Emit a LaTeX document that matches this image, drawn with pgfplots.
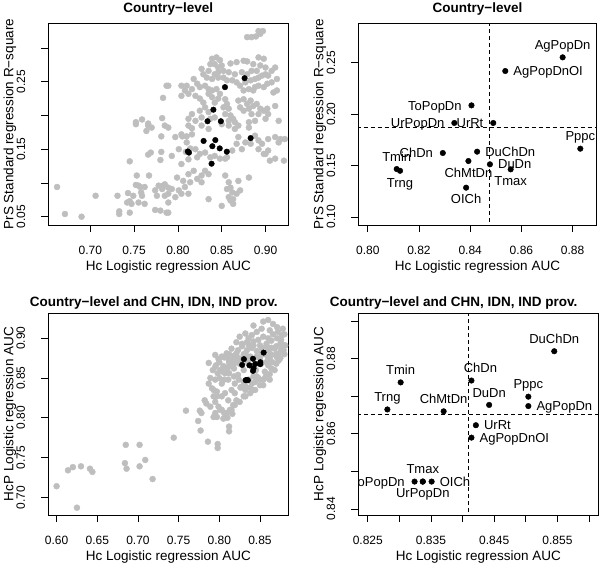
\documentclass[border=0pt]{standalone}
\usepackage{fontspec}
\setmainfont{Liberation Sans}
\usepackage{pgfplots}
\pgfplotsset{compat=1.18}
\definecolor{rgray}{HTML}{BEBEBE}

\pgfplotsset{
  rpanel/.style={
    scale only axis, height=201.7pt,
    clip=true,
    tick align=outside, tick pos=left, major tick length=7pt,
    axis line style={line width=0.8pt},
    every tick/.style={black, line width=0.8pt},
    tick label style={font=\fontsize{12}{14}\selectfont},
    xticklabel style={anchor=base, yshift=-22.3pt},
    yticklabel style={anchor=base, xshift=-16.3pt, rotate=90},
    every axis x label/.style={at={(axis description cs:0.5,0)}, yshift=-45.7pt, anchor=base,
      font=\fontsize{13.5}{16}\selectfont},
    every axis y label/.style={at={(axis description cs:0,0.5)}, xshift=-35pt, rotate=90, anchor=base,
      font=\fontsize{13.5}{16}\selectfont},
    every axis title/.style={at={(axis description cs:0.5,1)}, anchor=base, yshift=10.6pt,
      font=\bfseries\fontsize{13.5}{16}\selectfont},
  },
  graydot/.style={only marks, mark=*, mark size=3pt, mark options={fill=rgray, draw=rgray}},
  blackdot/.style={only marks, mark=*, mark size=2.8pt, mark options={fill=black, draw=black}},
  lab/.style={blackdot, point meta=explicit symbolic, nodes near coords,
    nodes near coords style={font=\fontsize{13}{15}\selectfont, inner sep=0pt, text=black}},
  labA/.style={lab, nodes near coords style={anchor=base, yshift=7.7pt}},
  labB/.style={lab, nodes near coords style={anchor=base, yshift=-16.3pt}},
  labL/.style={lab, nodes near coords style={anchor=base east, xshift=-9.7pt, yshift=-4.65pt}},
  labR/.style={lab, nodes near coords style={anchor=base west, xshift=8pt, yshift=-4.65pt}},
  refline/.style={black, line width=0.9pt, dash pattern=on 4pt off 3pt},
}

\begin{document}
\begin{tikzpicture}
\useasboundingbox (0,0) rectangle (600pt,563pt);

% ---------- top left: country level, all variables ----------
\begin{axis}[rpanel, at={(48.3pt,338pt)}, anchor=south west, width=240pt,
  xmin=0.652, xmax=0.926, ymin=0.0377, ymax=0.3365,
  xtick={0.70,0.75,0.80,0.85,0.90}, xticklabels={0.70,0.75,0.80,0.85,0.90},
  ytick={0.05,0.10,0.15,0.20,0.25,0.30}, yticklabels={0.05,,0.15,,0.25,},
  title={Country−level},
  xlabel={Hc Logistic regression AUC},
  ylabel={PrS Standard regression R−square}]
\addplot[graydot] coordinates {
(0.787,0.244) (0.783,0.226) (0.782,0.196) (0.759,0.194) (0.752,0.190) (0.766,0.188)
(0.752,0.187) (0.766,0.185) (0.770,0.182) (0.764,0.177) (0.781,0.169) (0.785,0.185)
(0.766,0.142) (0.769,0.145) (0.781,0.146) (0.780,0.134) (0.745,0.132) (0.753,0.111)
(0.767,0.111) (0.662,0.094) (0.706,0.081) (0.731,0.081) (0.743,0.085) (0.749,0.081)
(0.755,0.096) (0.752,0.097) (0.757,0.094) (0.762,0.094) (0.758,0.086) (0.759,0.081)
(0.745,0.073) (0.742,0.071) (0.747,0.069) (0.755,0.071) (0.762,0.069) (0.778,0.096)
(0.783,0.096) (0.785,0.098) (0.782,0.091) (0.774,0.089) (0.776,0.081) (0.785,0.081)
(0.789,0.084) (0.671,0.054) (0.690,0.050) (0.733,0.058) (0.733,0.054) (0.745,0.056)
(0.774,0.060) (0.780,0.059) (0.787,0.056)
(0.879,0.316) (0.884,0.316) (0.889,0.317) (0.892,0.325) (0.897,0.325) (0.894,0.321)
(0.839,0.284) (0.844,0.286) (0.848,0.282) (0.837,0.276) (0.842,0.276) (0.846,0.271)
(0.850,0.274) (0.860,0.277) (0.867,0.279) (0.875,0.281) (0.879,0.280) (0.886,0.276)
(0.892,0.286) (0.898,0.284) (0.894,0.274) (0.900,0.271) (0.890,0.266) (0.884,0.266)
(0.879,0.261) (0.873,0.264) (0.865,0.261) (0.858,0.264) (0.852,0.266) (0.846,0.264)
(0.842,0.261) (0.835,0.266) (0.827,0.269) (0.829,0.261) (0.833,0.256) (0.839,0.254)
(0.846,0.256) (0.852,0.256) (0.856,0.252) (0.862,0.252) (0.867,0.249) (0.871,0.244)
(0.877,0.249) (0.883,0.252) (0.888,0.254) (0.892,0.256) (0.896,0.259) (0.900,0.261)
(0.903,0.259) (0.907,0.266) (0.911,0.271) (0.913,0.254) (0.907,0.249) (0.902,0.247)
(0.898,0.242) (0.892,0.244) (0.888,0.242) (0.886,0.237) (0.881,0.239) (0.875,0.237)
(0.818,0.254) (0.822,0.247) (0.825,0.242) (0.831,0.244) (0.835,0.239) (0.839,0.237)
(0.844,0.239) (0.848,0.232) (0.846,0.225) (0.842,0.219) (0.839,0.227) (0.835,0.232)
(0.789,0.244) (0.804,0.244) (0.810,0.244) (0.816,0.239) (0.808,0.237) (0.804,0.229)
(0.812,0.232) (0.820,0.229) (0.825,0.225) (0.829,0.219) (0.831,0.212) (0.835,0.205)
(0.825,0.207) (0.816,0.202) (0.812,0.195) (0.820,0.192) (0.827,0.197) (0.837,0.195)
(0.842,0.197) (0.852,0.212) (0.856,0.217) (0.858,0.210) (0.854,0.202) (0.860,0.200)
(0.863,0.195) (0.869,0.222) (0.875,0.224) (0.879,0.217) (0.883,0.222) (0.886,0.214)
(0.881,0.210) (0.875,0.207) (0.871,0.212) (0.890,0.217) (0.894,0.210) (0.898,0.207)
(0.902,0.210) (0.892,0.202) (0.884,0.202) (0.900,0.195) (0.903,0.202) (0.911,0.214)
(0.913,0.237) (0.909,0.234) (0.915,0.192) (0.858,0.192) (0.865,0.190) (0.881,0.190)
(0.888,0.192) (0.854,0.224)
(0.789,0.182) (0.797,0.168) (0.804,0.172) (0.810,0.160) (0.801,0.150) (0.793,0.140)
(0.816,0.172) (0.812,0.185) (0.827,0.185) (0.835,0.180) (0.850,0.187) (0.858,0.185)
(0.865,0.180) (0.869,0.185) (0.881,0.182) (0.869,0.168) (0.877,0.160) (0.883,0.158)
(0.873,0.150) (0.867,0.158) (0.862,0.148) (0.856,0.138) (0.854,0.136) (0.848,0.136)
(0.842,0.140) (0.837,0.138) (0.831,0.145) (0.825,0.143) (0.820,0.150) (0.822,0.138)
(0.812,0.135) (0.804,0.128) (0.892,0.150) (0.898,0.143) (0.903,0.148) (0.896,0.158)
(0.892,0.163) (0.903,0.165) (0.911,0.168) (0.915,0.160) (0.917,0.165) (0.921,0.133)
(0.911,0.136) (0.905,0.133) (0.900,0.143) (0.888,0.170) (0.799,0.108) (0.806,0.103)
(0.814,0.101) (0.822,0.106) (0.827,0.111) (0.831,0.118) (0.818,0.118) (0.812,0.113)
(0.835,0.113) (0.827,0.101) (0.808,0.094) (0.801,0.089) (0.793,0.091) (0.789,0.093)
(0.804,0.084) (0.812,0.084) (0.797,0.079) (0.789,0.071) (0.789,0.056) (0.835,0.076)
(0.850,0.066) (0.856,0.091) (0.854,0.111) (0.858,0.101) (0.860,0.093) (0.862,0.086)
(0.858,0.079) (0.863,0.076) (0.867,0.084) (0.871,0.089) (0.869,0.103) (0.881,0.108)
(0.860,0.074) (0.863,0.069) (0.922,0.165)
(0.809,0.146) (0.814,0.151) (0.805,0.169) (0.810,0.169) (0.816,0.181)
};
\addplot[blackdot] coordinates {
(0.8761,0.2552) (0.8537,0.2419) (0.8405,0.2085) (0.8338,0.1914) (0.8490,0.1914)
(0.8830,0.1664) (0.8293,0.1622) (0.8427,0.1635) (0.8393,0.1544) (0.8477,0.1512)
(0.8558,0.1463) (0.8113,0.1466) (0.8126,0.1449) (0.8384,0.1285)
};
\end{axis}

% ---------- top right: country level, labelled ----------
\begin{axis}[rpanel, at={(358.3pt,338pt)}, anchor=south west, width=238.4pt,
  xmin=0.7963, xmax=0.8894, ymin=0.0922, ymax=0.2883,
  xtick={0.80,0.82,0.84,0.86,0.88}, xticklabels={0.80,0.82,0.84,0.86,0.88},
  ytick={0.10,0.15,0.20,0.25}, yticklabels={0.10,0.15,0.20,0.25},
  title={Country−level},
  xlabel={Hc Logistic regression AUC},
  ylabel={PrS Standard regression R−square}]
\addplot[refline] coordinates {(0.8477,0) (0.8477,1)};
\addplot[refline] coordinates {(0.7,0.1868) (0.95,0.1868)};
\addplot[labA] coordinates {(0.8761,0.2552)[AgPopDn] (0.8830,0.1664)[Pppc] (0.8113,0.1466)[Tmin]};
\addplot[labB] coordinates {(0.8393,0.1544)[ChMtDn] (0.8558,0.1463)[Tmax] (0.8126,0.1449)[Trng] (0.8384,0.1285)[OICh]};
\addplot[labL] coordinates {(0.8405,0.2085)[ToPopDn] (0.8338,0.1914)[UrPopDn] (0.8490,0.1914)[UrRt] (0.8293,0.1622)[ChDn]};
\addplot[labR] coordinates {(0.8537,0.2419)[AgPopDnOI] (0.8427,0.1635)[DuChDn] (0.8477,0.1512)[DuDn]};
\end{axis}

% ---------- bottom left: country level and provinces ----------
\begin{axis}[rpanel, at={(48.3pt,48pt)}, anchor=south west, width=240pt,
  xmin=0.5898, xmax=0.8848, ymin=0.6778, ymax=0.9314,
  xtick={0.60,0.65,0.70,0.75,0.80,0.85}, xticklabels={0.60,0.65,0.70,0.75,0.80,0.85},
  ytick={0.70,0.75,0.80,0.85,0.90}, yticklabels={0.70,0.75,0.80,0.85,0.90},
  title={Country−level and CHN, IDN, IND prov.},
  every axis title/.append style={yshift=-4pt, xshift=-14.6pt},
  xlabel={Hc Logistic regression AUC},
  ylabel={HcP Logistic regression AUC}]
\addplot[graydot] coordinates {
(0.600,0.714) (0.614,0.734) (0.620,0.738) (0.630,0.739) (0.641,0.736) (0.644,0.732)
(0.625,0.687) (0.684,0.743) (0.686,0.736) (0.685,0.766) (0.702,0.766) (0.702,0.739)
(0.709,0.747) (0.718,0.723) (0.744,0.775) (0.759,0.809) (0.776,0.809) (0.774,0.796)
(0.777,0.784) (0.786,0.770) (0.798,0.767) (0.798,0.762) (0.812,0.783) (0.812,0.789)
(0.793,0.801) (0.797,0.801) (0.806,0.806) (0.810,0.800) (0.816,0.805)
(0.784,0.818) (0.793,0.835) (0.797,0.827) (0.801,0.810) (0.805,0.799) (0.813,0.810)
(0.817,0.816) (0.821,0.822) (0.830,0.827) (0.842,0.835) (0.854,0.841) (0.862,0.848)
(0.842,0.916) (0.854,0.921) (0.860,0.923) (0.866,0.918) (0.871,0.914) (0.862,0.910)
(0.852,0.912) (0.846,0.908) (0.840,0.904) (0.836,0.900) (0.832,0.906) (0.825,0.902)
(0.821,0.895) (0.828,0.893) (0.834,0.895) (0.842,0.891) (0.850,0.891) (0.858,0.893)
(0.864,0.897) (0.871,0.900) (0.875,0.893) (0.868,0.887) (0.860,0.885) (0.852,0.881)
(0.846,0.877) (0.838,0.877) (0.832,0.881) (0.823,0.885) (0.815,0.887) (0.809,0.881)
(0.803,0.877) (0.799,0.874) (0.795,0.879) (0.811,0.874) (0.817,0.874) (0.821,0.881)
(0.864,0.879) (0.873,0.881) (0.879,0.885) (0.881,0.891) (0.877,0.904) (0.862,0.874)
(0.873,0.872) (0.871,0.876)
(0.787,0.869) (0.795,0.864) (0.801,0.860) (0.807,0.856) (0.811,0.864) (0.819,0.869)
(0.852,0.869) (0.860,0.866) (0.864,0.862) (0.858,0.854) (0.854,0.848) (0.850,0.841)
(0.844,0.835) (0.838,0.831) (0.832,0.827) (0.825,0.820) (0.819,0.816) (0.815,0.810)
(0.809,0.806) (0.803,0.810) (0.799,0.814) (0.795,0.820) (0.793,0.827) (0.797,0.833)
(0.791,0.837) (0.787,0.843) (0.789,0.850) (0.795,0.848) (0.803,0.843) (0.811,0.848)
(0.819,0.843) (0.827,0.839) (0.832,0.835) (0.840,0.843) (0.846,0.852) (0.823,0.854)
(0.815,0.835) (0.807,0.831) (0.811,0.822) (0.803,0.827) (0.819,0.831) (0.789,0.814)
(0.782,0.822) (0.778,0.806) (0.795,0.806)
(0.805,0.865) (0.812,0.870) (0.818,0.862) (0.825,0.868) (0.830,0.860) (0.835,0.870)
(0.840,0.865) (0.845,0.860) (0.850,0.875) (0.855,0.880) (0.860,0.876) (0.865,0.870)
(0.870,0.868) (0.875,0.875) (0.868,0.860) (0.862,0.855) (0.856,0.858) (0.848,0.850)
(0.842,0.852) (0.836,0.848) (0.830,0.845) (0.824,0.848) (0.818,0.852) (0.812,0.856)
(0.806,0.848) (0.800,0.850) (0.826,0.838) (0.832,0.840) (0.838,0.838) (0.844,0.845)
(0.850,0.848) (0.856,0.850) (0.828,0.890) (0.834,0.885) (0.840,0.888) (0.846,0.884)
(0.852,0.888) (0.858,0.890) (0.864,0.888) (0.870,0.890) (0.876,0.898) (0.880,0.905)
(0.878,0.912) (0.872,0.908) (0.866,0.905) (0.860,0.900) (0.854,0.902) (0.848,0.898)
(0.842,0.896) (0.836,0.892) (0.830,0.880) (0.824,0.875) (0.818,0.878) (0.812,0.880)
(0.806,0.876) (0.800,0.870) (0.796,0.866) (0.792,0.860) (0.798,0.856) (0.804,0.858)
(0.810,0.862) (0.816,0.866) (0.822,0.870) (0.828,0.873) (0.834,0.877) (0.858,0.870)
(0.863,0.880) (0.870,0.880) (0.876,0.886) (0.880,0.880) (0.878,0.892)
};
\addplot[blackdot] coordinates {
(0.8545,0.8820) (0.8414,0.8742) (0.8302,0.8737) (0.8504,0.8699) (0.8442,0.8677)
(0.8504,0.8674) (0.8281,0.8665) (0.8370,0.8660) (0.8421,0.8623) (0.8414,0.8590)
(0.8324,0.8473) (0.8337,0.8473) (0.8351,0.8473)
};
\end{axis}

% ---------- bottom right: country level and provinces, labelled ----------
\begin{axis}[rpanel, at={(358.3pt,48pt)}, anchor=south west, width=240.2pt,
  clip marker paths=true,
  xmin=0.8235, xmax=0.8615, ymin=0.8384, ymax=0.8921,
  xtick={0.825,0.830,0.835,0.840,0.845,0.850,0.855,0.860},
  xticklabels={0.825,,0.835,,0.845,,0.855,},
  ytick={0.84,0.85,0.86,0.87,0.88,0.89}, yticklabels={0.84,,0.86,,0.88,},
  title={Country−level and CHN, IDN, IND prov.},
  every axis title/.append style={yshift=-4pt, xshift=-24.8pt},
  xlabel={Hc Logistic regression AUC},
  ylabel={HcP Logistic regression AUC}]
\addplot[refline] coordinates {(0.8409,0.8) (0.8409,0.95)};
\addplot[refline] coordinates {(0.8,0.8652) (0.9,0.8652)};
\addplot[labA] coordinates {(0.8545,0.8820)[DuChDn] (0.8302,0.8737)[Tmin]
  (0.8504,0.8699)[Pppc] (0.8442,0.8677)[DuDn] (0.8281,0.8665)[Trng] (0.8370,0.8660)[ChMtDn]
  (0.8337,0.8473)[Tmax]};
\addplot[labA, nodes near coords style={xshift=9pt}] coordinates {(0.8414,0.8742)[ChDn]};
\addplot[labB] coordinates {(0.8337,0.8473)[UrPopDn]};
\addplot[labL] coordinates {(0.8324,0.8473)[ToPopDn]};
\addplot[labR] coordinates {(0.8504,0.8674)[AgPopDn] (0.8421,0.8623)[UrRt] (0.8414,0.8590)[AgPopDnOI]
  (0.8351,0.8473)[OICh]};
\end{axis}
\end{tikzpicture}
\end{document}
